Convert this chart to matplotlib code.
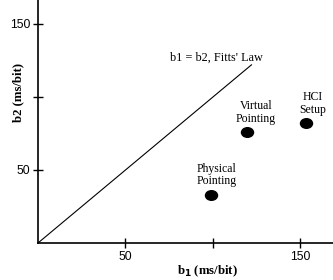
import matplotlib
matplotlib.use("Agg")
import matplotlib.pyplot as plt
from matplotlib.path import Path
from matplotlib.transforms import Affine2D

# data
names = ["Physical\nPointing", "Virtual\nPointing", "HCI\nSetup"]
b1 = [99, 119.5, 153]
b2 = [33, 76, 82]
fitts_b1 = [0, 122]
fitts_b2 = [0, 122]
ticks = [50, 100, 150]
tick_labels = ["50", "", "150"]

fig = plt.figure(figsize=(3.33, 2.8), dpi=100)
ax = fig.add_axes([38 / 333, 37 / 280, 295 / 333, 243 / 280])

ax.plot(fitts_b1, fitts_b2, color="black", linewidth=0.8)
ax.text(102, 127, "b1 = b2, Fitts' Law", family="Liberation Serif", fontsize=8.8,
        ha="center", va="center")

oval = Path.unit_circle().transformed(Affine2D().scale(1.25, 1.0))
ax.scatter(b1, b2, marker=oval, s=75, color="black", zorder=3)
dx = [3, 5, 4]
dy = [13.5, 13.5, 13.5]
for x, y, name, ox, oy in zip(b1, b2, names, dx, dy):
    ax.text(x + ox, y + oy, name, family="Liberation Serif", fontsize=8.5,
            ha="center", va="center", linespacing=1.05)

ax.set_xlim(0, 168.6)
ax.set_ylim(0, 166.4)
for s in ["top", "right"]:
    ax.spines[s].set_visible(False)
ax.spines["left"].set_linewidth(1.2)
ax.spines["bottom"].set_linewidth(1.2)

ax.set_xticks(ticks)
ax.set_xticklabels(tick_labels)
ax.set_yticks(ticks)
ax.set_yticklabels(tick_labels)
ax.tick_params(direction="inout", length=7, width=1.0, labelsize=8.8, pad=2)
for lab in ax.get_xticklabels() + ax.get_yticklabels():
    lab.set_family("Liberation Sans")

ax.set_xlabel(r"b$_\mathbf{1}$ (ms/bit)", family="Liberation Serif", fontsize=9.2,
              fontweight="bold")
ax.xaxis.set_label_coords(0.573, -0.085)
ax.set_ylabel("b2 (ms/bit)", family="Liberation Serif", fontsize=9.2,
              fontweight="bold")
ax.yaxis.set_label_coords(-0.047, 0.62)

fig.savefig("out.png", dpi=100)
